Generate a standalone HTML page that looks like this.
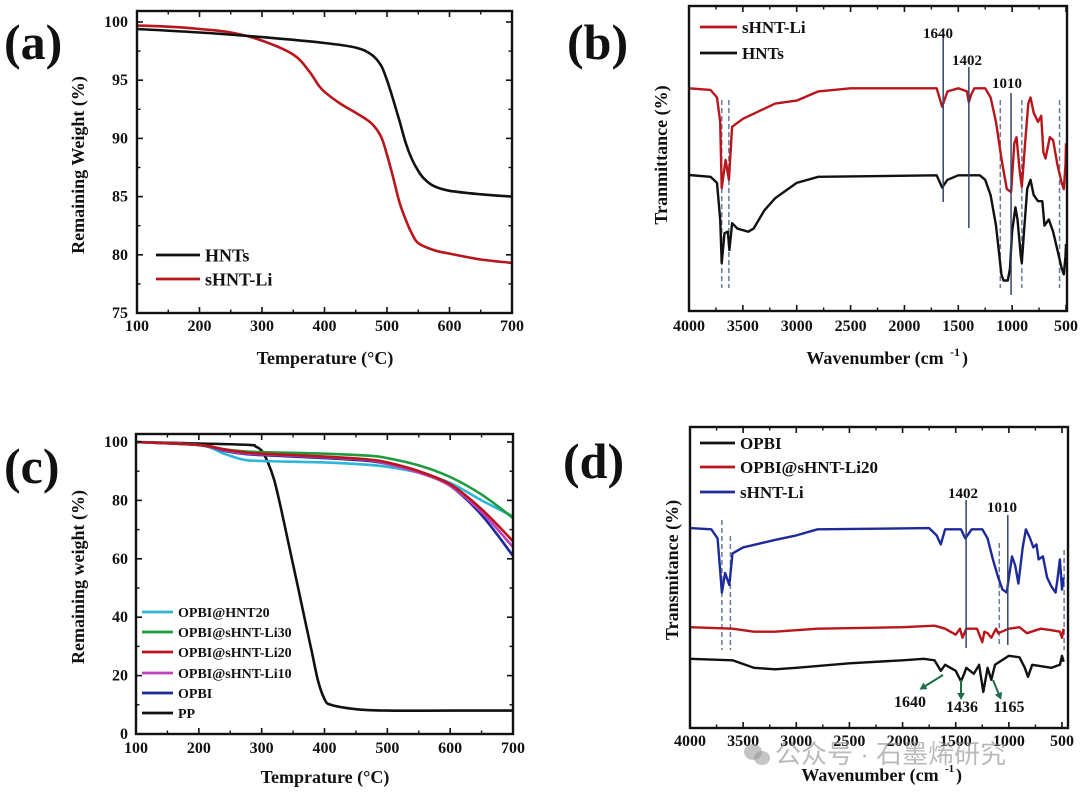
<!DOCTYPE html>
<html><head><meta charset="utf-8">
<style>
html,body{margin:0;padding:0;background:#fff;}
svg{display:block;font-family:"Liberation Serif",serif;font-weight:bold;}
</style></head>
<body>
<svg id="fig" width="1080" height="794" viewBox="0 0 1080 794" xmlns="http://www.w3.org/2000/svg">
<g id="root"></g>
</svg>
<script>
// ---------- Panel (a) data ----------
const aX_HNT = [100,200,300,400,450,475,490,500,510,520,530,540,550,560,575,600,650,700];
const aY_HNT = [99.4,99.1,98.7,98.2,97.8,97.2,96.3,95,93.3,91.5,89.6,88.2,87.2,86.5,85.9,85.5,85.2,85];
const aX_SHNT = [100,150,200,250,300,350,375,390,400,425,450,475,490,500,510,520,530,540,550,575,600,650,700];
const aY_SHNT = [99.7,99.6,99.4,99.1,98.4,97.2,95.8,94.6,94,93,92.2,91.3,90.2,88.6,86.6,84.5,83,81.8,81,80.4,80.1,79.6,79.3];
const aXTicks = [100,200,300,400,500,600,700];
const aYTicks = [75,80,85,90,95,100];

// ---------- Panel (b) data ----------
const bX_SHNT = [4000,3800,3740,3710,3696,3660,3630,3600,3500,3200,3000,2800,2500,1700,1650,1600,1500,1420,1402,1380,1350,1250,1200,1150,1100,1050,1010,980,960,930,910,880,850,830,800,760,730,710,690,650,620,580,540,520,505,500];
const bY_SHNT = [73,72.5,70,62,40.3,49.5,43,60.4,63,68,69,72,73,73,67,72,73,72,68.5,71,73,73,70,62,50,40,39,55,57,46,40.7,55,68,70,65,62,64,52,50,57,56,48,42,40,48,55];
const bX_HNT = [4000,3800,3740,3710,3696,3670,3640,3625,3600,3550,3450,3400,3300,3200,3000,2800,1700,1650,1600,1500,1300,1250,1200,1150,1100,1080,1040,1020,1000,970,950,920,910,890,860,830,800,760,720,700,660,620,580,540,520,505,500];
const bY_HNT = [44.6,44,42,30,15.7,25.5,26,20,28.8,27,26,27,33,37,42,44,44.5,40.5,43,44.5,44.5,43,38,28,12,10,10,14,26,34,30,18,15.7,26,40,43,38,36,36,28,30,26,20,14,12,18,22];
const bXTicks = [4000,3500,3000,2500,2000,1500,1000,500];
const bSolidPeaks = [1640,1402,1010];
const bDashed = [3696,3630,1110,910,560];

// ---------- Panel (c) data ----------
const cX = [100,200,240,270,300,400,470,500,550,600,650,700];
const cY_HNT20 = [100,99,96,94,93.5,93,92.2,91.5,89.5,86,80,74.5];
const cY_Li30 = [100,99,97.5,96.8,96.5,96,95.3,94.5,92,88,82,74];
const cY_Li20 = [100,99,97.5,96.5,96,95,94,93,90,85.5,77,66];
const cY_Li10 = [100,99,97.2,96.2,95.8,94.8,93.8,92.5,89.5,85,76,64];
const cY_OPBI = [100,99,97,96,95.5,94.5,93.5,92.5,90,85,75,61];
const cX_PP = [100,200,280,290,300,310,320,330,340,350,360,370,380,390,400,410,450,500,600,700];
const cY_PP = [100,99.5,99,98.5,97,93,87,78,68,58,48,38,28,18,12,10,8.5,8,8,8];
const cXTicks = [100,200,300,400,500,600,700];
const cYTicks = [0,20,40,60,80,100];

// ---------- Panel (d) data ----------
const dX_SHNT = [4000,3800,3740,3700,3670,3630,3600,3500,3200,3000,2800,1750,1680,1640,1600,1450,1410,1350,1250,1200,1150,1100,1060,1020,1000,970,940,910,870,840,800,770,740,720,680,640,600,560,540,520,500,485];
const dY_SHNT = [66.4,66,63,45,51.5,47.5,58,60,62.5,64,66,66.4,64,61,66,66,63,66,66,63,56,50,46,45,50,57,54,48,60,66,63,60,61,56,57,50,47,45,50,56,46,50];
const dX_LI20 = [4000,3600,3400,3200,3000,2800,2000,1700,1600,1500,1460,1436,1400,1300,1250,1230,1200,1165,1120,1100,1000,900,830,700,600,520,500,485];
const dY_LI20 = [33.5,33,32,32,32.5,33,33.5,34,33,31,33,30,33,33,28.5,32,31.5,30,33,31.5,33,33.5,31.5,33,32.5,32,30,33];
const dX_OPBI = [4000,3600,3400,3200,3000,2500,2000,1800,1700,1640,1600,1500,1450,1420,1400,1330,1280,1240,1200,1165,1130,1000,900,850,820,780,600,520,500,485];
const dY_OPBI = [23,22.5,20,19.5,20,21.5,22.5,23,22.5,19,21,19,15.5,18,20,18,21,12,20,16,21,24,23.5,20,17,21,20,21,24,22];
const dXTicks = [4000,3500,3000,2500,2000,1500,1000,500];
const dSolidPeaks = [1402,1010];
const dDashed = [3700,3620,1090,480];

// ---------- helpers ----------
const NS = "http://www.w3.org/2000/svg";
const root = document.getElementById('root');
function mk(tag, attrs, parent){
  const e = document.createElementNS(NS, tag);
  for (const k in attrs) e.setAttribute(k, attrs[k]);
  (parent||root).appendChild(e);
  return e;
}
function lin(d0,d1,r0,r1){ return v => r0 + (v-d0)/(d1-d0)*(r1-r0); }
function smoothPath(pts){
  let d = "M"+pts[0][0].toFixed(1)+","+pts[0][1].toFixed(1);
  for (let i=0;i<pts.length-1;i++){
    const p0=pts[Math.max(0,i-1)], p1=pts[i], p2=pts[i+1], p3=pts[Math.min(pts.length-1,i+2)];
    const c1x=p1[0]+(p2[0]-p0[0])/6, c1y=p1[1]+(p2[1]-p0[1])/6;
    const c2x=p2[0]-(p3[0]-p1[0])/6, c2y=p2[1]-(p3[1]-p1[1])/6;
    d += " C"+c1x.toFixed(1)+","+c1y.toFixed(1)+" "+c2x.toFixed(1)+","+c2y.toFixed(1)+" "+p2[0].toFixed(1)+","+p2[1].toFixed(1);
  }
  return d;
}
function polyPath(pts){ return "M"+pts.map(p=>p[0].toFixed(1)+","+p[1].toFixed(1)).join(" L"); }
function drawSeries(xs, ys, sx, sy, color, name, smooth, w){
  const pts = xs.map((x,i)=>[sx(x), sy(ys[i])]);
  const p = mk('path',{d: smooth?smoothPath(pts):polyPath(pts), fill:'none', stroke:color, 'stroke-width':w||2.6, 'stroke-linejoin':'round'});
  
  
  return p;
}
function txt(x,y,s,size,anchor,name,extra){
  const t = mk('text',Object.assign({x:x,y:y,'font-size':size,'text-anchor':anchor||'start',fill:'#111'},extra||{}));
  t.textContent = s;
  
  
  return t;
}
function frame(L,T,R,B,name){
  const r = mk('rect',{x:L,y:T,width:R-L,height:B-T,fill:'none',stroke:'#111','stroke-width':2.4});
  
  
}
function xTicks(ticks, sx, B, T, labelY, name, minor){
  ticks.forEach((v,i)=>{
    const x = sx(v);
    mk('line',{x1:x,y1:B,x2:x,y2:B-6,stroke:'#111','stroke-width':1.6});
    mk('line',{x1:x,y1:T,x2:x,y2:T+6,stroke:'#111','stroke-width':1.6});
    txt(x, labelY, String(v), 16, 'middle', name+'-label');
    if (minor && i<ticks.length-1){
      const xm = sx((v+ticks[i+1])/2);
      mk('line',{x1:xm,y1:B,x2:xm,y2:B-3.5,stroke:'#111','stroke-width':1.4});
      mk('line',{x1:xm,y1:T,x2:xm,y2:T+3.5,stroke:'#111','stroke-width':1.4});
    }
  });
}
function yTicks(ticks, sy, L, R, labelX, name){
  ticks.forEach((v,i)=>{
    const y = sy(v);
    mk('line',{x1:L,y1:y,x2:L+6,y2:y,stroke:'#111','stroke-width':1.6});
    mk('line',{x1:R,y1:y,x2:R-6,y2:y,stroke:'#111','stroke-width':1.6});
    txt(labelX, y+5, String(v), 16, 'end', name+'-label');
    if (i<ticks.length-1){
      const ym = sy((v+ticks[i+1])/2);
      mk('line',{x1:L,y1:ym,x2:L+3.5,y2:ym,stroke:'#111','stroke-width':1.4});
      mk('line',{x1:R,y1:ym,x2:R-3.5,y2:ym,stroke:'#111','stroke-width':1.4});
    }
  });
}
function legendEntry(x1,x2,y,color,label,size,name){
  const l = mk('line',{x1:x1,y1:y,x2:x2,y2:y,stroke:color,'stroke-width':2.8});
  
  
  txt(x2+5, y+size*0.35, label, size, 'start', name);
}
function vline(x,y1,y2,dashed,name){
  const l = mk('line',{x1:x,y1:y1,x2:x,y2:y2,stroke:dashed?'#6a7a9a':'#34456a','stroke-width':1.5});
  if (dashed) l.setAttribute('stroke-dasharray','5,3');
  
  
}

// ---------- Panel (a) ----------
(function(){
  const L=137,R=512,T=11,B=313;
  const sx = lin(100,700,L,R), sy = lin(75,100,B,22);
  drawSeries(aX_SHNT,aY_SHNT,sx,sy,'#b8161c','series-shnt-li',true,2.6);
  drawSeries(aX_HNT,aY_HNT,sx,sy,'#111','series-hnts',true,2.6);
  frame(L,T,R,B,'plot-frame-a');
  xTicks(aXTicks,sx,B,T,331,'x-tick-a',true);
  yTicks(aYTicks,sy,L,R,128,'y-tick-a');
  txt(325,364,'Temperature (°C)',18,'middle','x-axis-title-a');
  txt(0,0,'Remaining Weight (%)',18,'middle','y-axis-title-a',{transform:'translate(84,165) rotate(-90)'});
  legendEntry(156,200,255,'#111','HNTs',18,'legend-hnts');
  legendEntry(156,200,279,'#b8161c','sHNT-Li',18,'legend-shnt-li');
  txt(4,59,'(a)',50,'start','panel-label-a');
})();

// ---------- Panel (b) ----------
(function(){
  const L=689,R=1067,T=6,B=311;
  const sx = lin(4000,500,L,1066), sy = lin(0,100,B,6);
  bDashed.forEach(w=>vline(sx(w),100,288,true,'peak-dashed-b'));
  drawSeries(bX_SHNT,bY_SHNT,sx,sy,'#b8161c','series-shnt-li-ftir',false,2.4);
  drawSeries(bX_HNT,bY_HNT,sx,sy,'#111','series-hnts-ftir',false,2.4);
  vline(sx(1640),32,202,false,'peak-line-1640');
  vline(sx(1402),67,228,false,'peak-line-1402');
  vline(sx(1010),93,295,false,'peak-line-1010');
  txt(938,38,'1640',15,'middle','peak-label-1640');
  txt(967,65,'1402',15,'middle','peak-label-1402');
  txt(1007,88,'1010',15,'middle','peak-label-1010');
  frame(L,T,R,B,'plot-frame-b');
  xTicks(bXTicks,sx,B,T,331,'x-tick-b',true);
  txt(875,364,'Wavenumber (cm',18,'middle','x-axis-title-b');
  txt(950,356,'-1',12,'start','x-axis-title-b-sup');
  txt(962,364,')',18,'start','x-axis-title-b-close');
  txt(0,0,'Tranmittance (%)',18,'middle','y-axis-title-b',{transform:'translate(667,155) rotate(-90)'});
  legendEntry(700,737,27,'#b8161c','sHNT-Li',17,'legend-shnt-li-b');
  legendEntry(700,737,53,'#111','HNTs',17,'legend-hnts-b');
  txt(567,59,'(b)',50,'start','panel-label-b');
})();

// ---------- Panel (c) ----------
(function(){
  const L=136,R=513,T=434,B=734;
  const sx = lin(100,700,L,R), sy = lin(0,100,B,442);
  drawSeries(cX_PP,cY_PP,sx,sy,'#111','series-pp',true,2.6);
  drawSeries(cX,cY_HNT20,sx,sy,'#2cb6da','series-opbi-hnt20',true,2.6);
  drawSeries(cX,cY_Li30,sx,sy,'#1f9a3e','series-opbi-shnt-li30',true,2.6);
  drawSeries(cX,cY_OPBI,sx,sy,'#1d2a9a','series-opbi',true,2.6);
  drawSeries(cX,cY_Li10,sx,sy,'#c040c0','series-opbi-shnt-li10',true,2.6);
  drawSeries(cX,cY_Li20,sx,sy,'#b8161c','series-opbi-shnt-li20',true,2.6);
  frame(L,T,R,B,'plot-frame-c');
  xTicks(cXTicks,sx,B,T,753,'x-tick-c',true);
  yTicks(cYTicks,sy,L,R,128,'y-tick-c');
  txt(325,783,'Temprature (°C)',18,'middle','x-axis-title-c');
  txt(0,0,'Remaining weight (%)',18,'middle','y-axis-title-c',{transform:'translate(84,577) rotate(-90)'});
  legendEntry(142,173,612,'#2cb6da','OPBI@HNT20',14,'legend-opbi-hnt20');
  legendEntry(142,173,632,'#1f9a3e','OPBI@sHNT-Li30',14,'legend-opbi-shnt-li30');
  legendEntry(142,173,652,'#b8161c','OPBI@sHNT-Li20',14,'legend-opbi-shnt-li20');
  legendEntry(142,173,673,'#c040c0','OPBI@sHNT-Li10',14,'legend-opbi-shnt-li10');
  legendEntry(142,173,693,'#1d2a9a','OPBI',14,'legend-opbi');
  legendEntry(142,173,713,'#111','PP',14,'legend-pp');
  txt(4,483,'(c)',50,'start','panel-label-c');
})();

// ---------- Panel (d) ----------
(function(){
  const L=690,R=1068,T=427,B=728;
  const sx = lin(4000,500,L,1062), sy = lin(0,100,B,427);
  vline(sx(3700),520,650,true,'peak-dashed-d');
  vline(sx(3620),536,650,true,'peak-dashed-d');
  vline(sx(1090),543,647,true,'peak-dashed-d');
  vline(sx(480),550,650,true,'peak-dashed-d');
  drawSeries(dX_SHNT,dY_SHNT,sx,sy,'#1d2a9a','series-shnt-li-d',false,2.4);
  drawSeries(dX_LI20,dY_LI20,sx,sy,'#b8161c','series-opbi-shnt-li20-d',false,2.4);
  drawSeries(dX_OPBI,dY_OPBI,sx,sy,'#111','series-opbi-d',false,2.4);
  vline(sx(1402),500,648,false,'peak-line-1402-d');
  vline(sx(1010),515,645,false,'peak-line-1010-d');
  txt(963,498,'1402',15,'middle','peak-label-1402-d');
  txt(1002,512,'1010',15,'middle','peak-label-1010-d');
  const arrows=[[943,675,922,688],[961,680,961,697],[993,680,1000,697]];
  arrows.forEach(a=>{
    const l=mk('line',{x1:a[0],y1:a[1],x2:a[2],y2:a[3],stroke:'#1e6e4a','stroke-width':2});
    
    
    const ang=Math.atan2(a[3]-a[1],a[2]-a[0]);
    const hx=a[2]+Math.cos(ang)*3, hy=a[3]+Math.sin(ang)*3;
    const p1=[hx-Math.cos(ang-0.5)*8, hy-Math.sin(ang-0.5)*8];
    const p2=[hx-Math.cos(ang+0.5)*8, hy-Math.sin(ang+0.5)*8];
    const h=mk('polygon',{points:hx+','+hy+' '+p1.join(',')+' '+p2.join(','),fill:'#1e6e4a'});
    
    
  });
  txt(910,707,'1640',16,'middle','peak-label-1640-d');
  txt(962,712,'1436',16,'middle','peak-label-1436-d');
  txt(1009,712,'1165',16,'middle','peak-label-1165-d');
  frame(L,T,R,B,'plot-frame-d');
  xTicks(dXTicks,sx,B,T,746,'x-tick-d',true);
  txt(870,781,'Wavenumber (cm',18,'middle','x-axis-title-d');
  txt(945,772,'-1',11,'start','x-axis-title-d-sup');
  txt(956,781,')',18,'start','x-axis-title-d-close');
  txt(0,0,'Transmitance (%)',18,'middle','y-axis-title-d',{transform:'translate(678,570) rotate(-90)'});
  legendEntry(700,735,443,'#111','OPBI',17,'legend-opbi-d');
  legendEntry(700,735,467,'#b8161c','OPBI@sHNT-Li20',17,'legend-opbi-shnt-li20-d');
  legendEntry(700,735,492,'#1d2a9a','sHNT-Li',17,'legend-shnt-li-d');
  txt(563,478,'(d)',50,'start','panel-label-d');
  const c1=mk('ellipse',{cx:753,cy:752,rx:9,ry:8,fill:'rgba(150,150,150,0.55)'});
  
  
  const c2=mk('ellipse',{cx:762,cy:758,rx:8,ry:7,fill:'rgba(150,150,150,0.55)'});
  
  
  const w=txt(775,763,'公众号 · 石墨烯研究',26,'start','watermark-text',{fill:'rgba(140,140,140,0.6)'});
  w.setAttribute('font-family','"Liberation Sans","Noto Sans CJK SC",sans-serif');
  w.setAttribute('font-weight','normal');
})();
</script>
</body></html>
